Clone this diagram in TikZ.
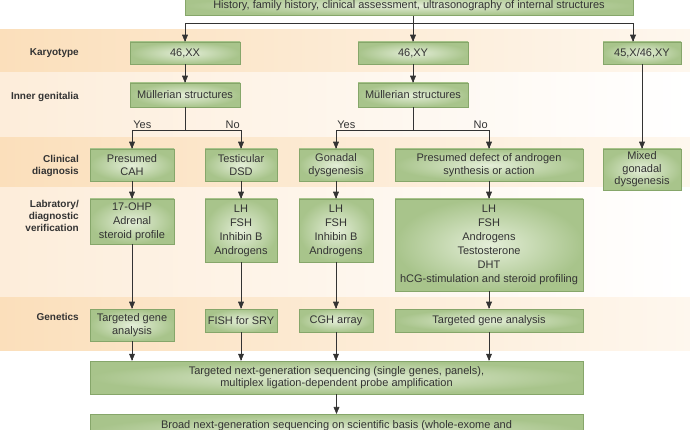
\documentclass[tikz,border=0pt]{standalone}
\usepackage{fontspec}
\setmainfont{Liberation Sans}
\usetikzlibrary{positioning,arrows,shapes}
\definecolor{boxline}{HTML}{86A66A}
\definecolor{boxin}{HTML}{E4EED8}
\definecolor{boxout}{HTML}{A8C48B}
\definecolor{bandA}{HTML}{FBDFBB}
\definecolor{bandB}{HTML}{FDEDDA}
\definecolor{ink}{HTML}{333333}
\tikzset{
  box/.style={draw=boxline, inner color=boxin, outer color=boxout, text=ink,
    align=center, inner sep=0.5pt, font=\fontsize{11}{12.5}\selectfont},
  list/.style={box, font=\fontsize{11}{14}\selectfont},
  lbl/.style={anchor=east, align=right, text=ink, inner sep=0pt,
    font=\fontsize{10}{12}\selectfont\bfseries},
  yn/.style={text=ink, inner sep=1pt, font=\fontsize{11}{12}\selectfont},
  arr/.style={draw=ink, line width=0.6pt, -triangle 45},
  line/.style={draw=ink, line width=0.6pt}
}

\begin{document}
\begin{tikzpicture}[x=1pt,y=-1pt]
      \useasboundingbox (0,0) rectangle (690,430);
      \fill[white] (0,0) rectangle (690,430);
      \shade[left color=bandA, right color=bandA!25] (0,30) rectangle (690,73);
      \shade[left color=bandB, right color=white] (0,73) rectangle (690,138);
      \shade[left color=bandA, right color=bandA!25] (0,138) rectangle (690,188);
      \shade[left color=bandB, right color=white] (0,188) rectangle (690,297);
      \shade[left color=bandA, right color=bandA!25] (0,297) rectangle (690,350);

      \node[lbl] (rk) at (79,53)  {Karyotype};
      \node[lbl] (ri) at (79,97)  {Inner genitalia};
      \node[lbl] (rc) at (79,166) {Clinical\\diagnosis};
      \node[lbl] (rl) at (79,216) {Labratory/\\diagnostic\\verification};
      \node[lbl] (rg) at (79,317) {Genetics};

      \node[box, minimum width=448, minimum height=20] (hist) at (409,5.5)
        {History, family history, clinical assessment, ultrasonography of internal structures};
      \node[box, minimum width=110, minimum height=22] (k1) at (185,53) {46,XX};
      \node[box, minimum width=110, minimum height=22] (k2) at (413,53) {46,XY};
      \node[box, minimum width=78,  minimum height=22] (k3) at (642,53) {45,X/46,XY};
      \node[box, minimum width=110, minimum height=24] (m1) at (185,95) {Müllerian structures};
      \node[box, minimum width=110, minimum height=24] (m2) at (413,95) {Müllerian structures};

      \node[box, minimum width=84,  minimum height=32] (c1) at (132,165) {Presumed\\CAH};
      \node[box, minimum width=72,  minimum height=32] (c2) at (241,165) {Testicular\\DSD};
      \node[box, minimum width=74,  minimum height=32] (c3) at (336,165) {Gonadal\\dysgenesis};
      \node[box, minimum width=188, minimum height=32] (c4) at (489,165) {Presumed defect of androgen\\synthesis or action};
      \node[box, minimum width=78,  minimum height=41] (c5) at (642,169.5) {Mixed\\gonadal\\dysgenesis};

      \node[list, minimum width=84,  minimum height=45] (l1) at (132,221.5) {17-OHP\\Adrenal\\steroid profile};
      \node[list, minimum width=72,  minimum height=63] (l2) at (241,230.5) {LH\\FSH\\Inhibin B\\Androgens};
      \node[list, minimum width=74,  minimum height=63] (l3) at (336,230.5) {LH\\FSH\\Inhibin B\\Androgens};
      \node[list, minimum width=188, minimum height=92] (l4) at (489,245)
        {LH\\FSH\\Androgens\\Testosterone\\DHT\\hCG-stimulation and steroid profiling};

      \node[box, minimum width=84,  minimum height=32] (g1) at (132,325) {Targeted gene\\analysis};
      \node[box, minimum width=72,  minimum height=23] (g2) at (241,320.5) {FISH for SRY};
      \node[box, minimum width=74,  minimum height=23] (g3) at (336,320.5) {CGH array};
      \node[box, minimum width=188, minimum height=23] (g4) at (489,320.5) {Targeted gene analysis};

      \node[box, minimum width=493, minimum height=33] (ngs) at (336.5,377.5)
        {Targeted next-generation sequencing (single genes, panels),\\multiplex ligation-dependent probe amplification};
      \node[box, anchor=north, minimum width=493, minimum height=34] (broad) at (336.5,414)
        {Broad next-generation sequencing on scientific basis (whole-exome and\\\mbox{}};

      \coordinate (hub) at (413,23);
      \coordinate (y1) at (185,130);
      \coordinate (y2) at (413,130);
      \draw[line] (hist.south -| hub) -- (hub);
      \draw[arr] (hub) -| (k1.north);
      \draw[arr] (hub) -- (k2.north);
      \draw[arr] (hub) -| ([xshift=-9pt]k3.north);
      \draw[arr] (k1) -- (m1);
      \draw[arr] (k2) -- (m2);

      \draw[line] (m1) -- (y1);
      \draw[arr] (y1) -| node[pos=0.5, yn, above right] {Yes} (c1.north);
      \draw[arr] (y1) -| node[pos=0.5, yn, above left] {No} (c2.north);
      \draw[line] (m2) -- (y2);
      \draw[arr] (y2) -| node[pos=0.5, yn, above right] {Yes} (c3.north);
      \draw[arr] (y2) -| node[pos=0.5, yn, above left] {No} (c4.north);
      \draw[arr] (k3) -- (c5);

      \draw[arr] (c1) -- (l1);
      \draw[arr] (c2) -- (l2);
      \draw[arr] (c3) -- (l3);
      \draw[arr] (c4) -- (l4);
      \draw[arr] (l1) -- (g1);
      \draw[arr] (l2) -- (g2);
      \draw[arr] (l3) -- (g3);
      \draw[arr] (l4) -- (g4);

      \draw[arr] (g1.south) -- (g1.south |- ngs.north);
      \draw[arr] (g2.south) -- (g2.south |- ngs.north);
      \draw[arr] (g3.south) -- (g3.south |- ngs.north);
      \draw[arr] (g4.south) -- (g4.south |- ngs.north);
      \draw[arr] (ngs) -- (broad);
\end{tikzpicture}
\end{document}
